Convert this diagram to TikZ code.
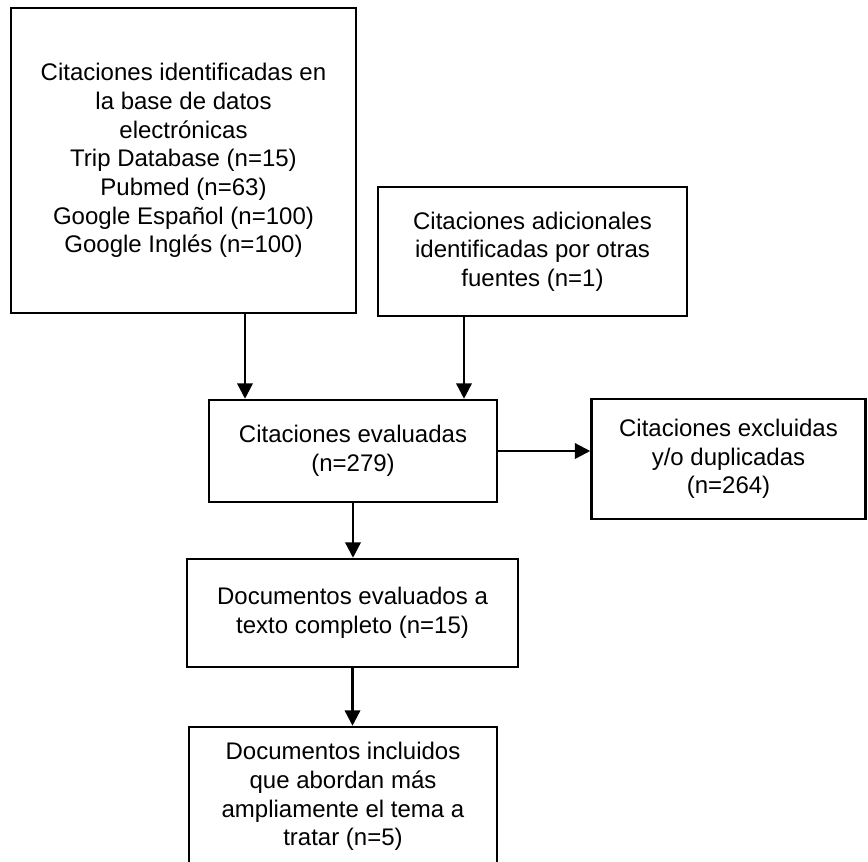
\documentclass[tikz,border=0pt]{standalone}
\usepackage{fontspec}
\setmainfont{Liberation Sans}
\usetikzlibrary{arrows.meta}
\begin{document}
\begin{tikzpicture}[x=0.75pt,y=-0.75pt,
  box/.style={draw=black,line width=1.9pt,fill=white,align=center,inner sep=0pt,
    font=\fontsize{18}{21.5}\selectfont},
  arr/.style={line width=1.8pt,-{Triangle[length=11.5pt,width=11.5pt]}}]
\clip (0,0) rectangle (868,861);
\useasboundingbox (0,0) rectangle (868,861);
\node[box,minimum width=258.75pt,minimum height=228.75pt] (b1) at (183.5,160.5)
  {Citaciones identificadas en\\la base de datos\\electrónicas\\Trip Database (n=15)\\Pubmed (n=63)\\Google Español (n=100)\\Google Inglés (n=100)};
\node[box,minimum width=231.75pt,minimum height=96.75pt] (b2) at (532.5,251.5)
  {Citaciones adicionales\\identificadas por otras\\fuentes (n=1)};
\node[box,minimum width=216pt,minimum height=76.5pt] (b3) at (353,451)
  {Citaciones evaluadas\\(n=279)};
\node[box,minimum width=205.5pt,minimum height=90pt] (b4) at (728.5,459)
  {Citaciones excluidas\\y/o duplicadas\\(n=264)};
\node[box,minimum width=248.25pt,minimum height=81pt] (b5) at (352.5,613)
  {Documentos evaluados a\\texto completo (n=15)};
\node[box,minimum width=231pt,minimum height=104.25pt] (b6) at (343,796.5)
  {Documentos incluidos\\que abordan más\\ampliamente el tema a\\tratar (n=5)};
\coordinate (c1) at (245,0);
\coordinate (c2) at (464,0);
\draw[arr] (b1.south -| c1) -- (b3.north -| c1);
\draw[arr] (b2.south -| c2) -- (b3.north -| c2);
\draw[arr] (b3.east) -- (b3.east -| b4.west);
\draw[arr] (b3.south) -- (b3.south |- b5.north);
\draw[arr] (b5.south) -- (b5.south |- b6.north);
\end{tikzpicture}
\end{document}
